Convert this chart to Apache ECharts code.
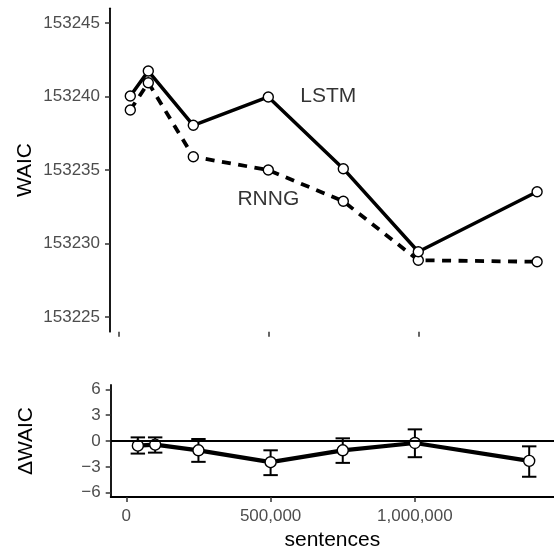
<!DOCTYPE html>
<html>
<head>
<meta charset="utf-8">
<script src="https://cdn.jsdelivr.net/npm/echarts@6/dist/echarts.min.js"></script>
<style>
html,body{margin:0;padding:0;background:#fff;}
#chart{width:554px;height:548px;}
</style>
</head>
<body>
<div id="chart"></div>
<script>
// ---- data ----
const sentences = [40000, 100000, 250000, 500000, 750000, 1000000, 1396000];
const waicLSTM = [153240.03, 153241.73, 153238.04, 153239.97, 153235.09, 153229.44, 153233.52];
const waicRNNG = [153239.08, 153240.94, 153235.90, 153235.00, 153232.87, 153228.86, 153228.76];
const deltaWAIC = [-0.54, -0.42, -1.08, -2.46, -1.08, -0.23, -2.31];
const deltaLow  = [-1.46, -1.35, -2.42, -3.96, -2.54, -1.88, -4.15];
const deltaHigh = [0.42, 0.42, 0.23, -1.08, 0.31, 1.35, -0.62];
const topYTicks = [153225, 153230, 153235, 153240, 153245];
const bottomYTicks = [-6, -3, 0, 3, 6];
const xTicks = [0, 500000, 1000000];
const modelNames = ['LSTM', 'RNNG'];
const modelLabelX = [700000, 500000];
const modelLabelY = [153240, 153233];

// ---- chart ----
const FONT = 'Liberation Sans, Arial, Helvetica, sans-serif';
const TICK_COLOR = '#4D4D4D';
const chart = echarts.init(document.getElementById('chart'), null, {renderer: 'canvas'});

const pair = (xs, ys) => xs.map((x, i) => [x, ys[i]]);
const errWidth = 50000;

const axisLineStyle = {color: '#000', width: 1.8};
const tickStyle = {color: '#333', width: 1.5};

const option = {
  animation: false,
  backgroundColor: '#fff',
  grid: [
    {left: 110, top: 8.3, right: 0, height: 323.4, containLabel: false, outerBoundsMode: 'none'},
    {left: 110.7, top: 385, right: 0, height: 112, containLabel: false, outerBoundsMode: 'none'}
  ],
  xAxis: [
    {
      gridIndex: 0, type: 'value', min: -27667, max: 1452333,
      splitLine: {show: false},
      axisLine: {show: false},
      axisTick: {show: true, length: 5, lineStyle: tickStyle, customValues: xTicks},
      axisLabel: {show: false, customValues: xTicks}
    },
    {
      gridIndex: 1, type: 'value', min: -54054, max: 1481960,
      splitLine: {show: false},
      axisLine: {show: true, onZero: false, lineStyle: axisLineStyle},
      axisTick: {show: true, length: 5, lineStyle: tickStyle, customValues: xTicks},
      axisLabel: {
        show: true, customValues: xTicks, margin: 11,
        color: TICK_COLOR, fontFamily: FONT, fontSize: 17,
        formatter: v => Number(v).toLocaleString('en-US')
      },
      name: 'sentences', nameLocation: 'middle', nameGap: 33, nameMoveOverlap: false,
      nameTextStyle: {color: '#000', fontFamily: FONT, fontSize: 21}
    }
  ],
  yAxis: [
    {
      gridIndex: 0, type: 'value', min: 153224, max: 153246,
      splitLine: {show: false},
      axisLine: {show: true, onZero: false, lineStyle: axisLineStyle},
      axisTick: {show: true, length: 5, lineStyle: tickStyle, customValues: topYTicks},
      axisLabel: {
        show: true, customValues: topYTicks, margin: 10,
        color: TICK_COLOR, fontFamily: FONT, fontSize: 17,
        formatter: v => String(v)
      },
      name: 'WAIC', nameLocation: 'middle', nameGap: 74, nameMoveOverlap: false,
      nameTextStyle: {color: '#000', fontFamily: FONT, fontSize: 21}
    },
    {
      gridIndex: 1, type: 'value', min: -6.5, max: 6.5,
      splitLine: {show: false},
      axisLine: {show: true, onZero: false, lineStyle: axisLineStyle},
      axisTick: {show: true, length: 5, lineStyle: tickStyle, customValues: bottomYTicks},
      axisLabel: {
        show: true, customValues: bottomYTicks, margin: 10,
        color: TICK_COLOR, fontFamily: FONT, fontSize: 17,
        formatter: v => (v < 0 ? '\u2212' + Math.abs(v) : String(v))
      },
      name: '\u0394WAIC', nameLocation: 'middle', nameGap: 74, nameMoveOverlap: false,
      nameTextStyle: {color: '#000', fontFamily: FONT, fontSize: 21}
    }
  ],
  series: [
    {
      name: 'RNNG', type: 'line', xAxisIndex: 0, yAxisIndex: 0,
      data: pair(sentences, waicRNNG),
      lineStyle: {color: '#000', width: 3.8, type: [9, 7.5], cap: 'butt'},
      symbol: 'circle', symbolSize: 10, showAllSymbol: true,
      itemStyle: {color: '#fff', borderColor: '#000', borderWidth: 1.4},
      z: 3
    },
    {
      name: 'LSTM', type: 'line', xAxisIndex: 0, yAxisIndex: 0,
      data: pair(sentences, waicLSTM),
      lineStyle: {color: '#000', width: 3.5},
      symbol: 'circle', symbolSize: 10, showAllSymbol: true,
      itemStyle: {color: '#fff', borderColor: '#000', borderWidth: 1.4},
      z: 4
    },
    {
      name: 'labels', type: 'scatter', xAxisIndex: 0, yAxisIndex: 0,
      data: modelNames.map((n, i) => ({value: [modelLabelX[i], modelLabelY[i]], name: n})),
      symbolSize: 0,
      label: {
        show: true, position: 'inside', formatter: p => p.name,
        color: '#000', fontFamily: FONT, fontSize: 21
      },
      z: 5
    },
    {
      name: 'errorbars', type: 'custom', xAxisIndex: 1, yAxisIndex: 1,
      data: sentences.map((x, i) => [x, deltaLow[i], deltaHigh[i]]),
      renderItem: (params, api) => {
        const x = api.value(0);
        const pLo = api.coord([x, api.value(1)]);
        const pHi = api.coord([x, api.value(2)]);
        const half = api.size([errWidth, 0])[0] / 2;
        const style = {stroke: '#000', lineWidth: 2, fill: null};
        return {
          type: 'group',
          children: [
            {type: 'line', shape: {x1: pLo[0], y1: pLo[1], x2: pHi[0], y2: pHi[1]}, style},
            {type: 'line', shape: {x1: pLo[0] - half, y1: pLo[1], x2: pLo[0] + half, y2: pLo[1]}, style},
            {type: 'line', shape: {x1: pHi[0] - half, y1: pHi[1], x2: pHi[0] + half, y2: pHi[1]}, style}
          ]
        };
      },
      z: 2
    },
    {
      name: 'delta', type: 'line', xAxisIndex: 1, yAxisIndex: 1,
      data: pair(sentences, deltaWAIC),
      lineStyle: {color: '#000', width: 4.2},
      symbol: 'circle', symbolSize: 11, showAllSymbol: true,
      itemStyle: {color: '#fff', borderColor: '#000', borderWidth: 1.4},
      markLine: {
        silent: true, symbol: 'none', label: {show: false},
        lineStyle: {color: '#000', width: 1.8, type: 'solid'},
        data: [{yAxis: 0}]
      },
      z: 4
    }
  ]
};
chart.setOption(option);
</script>
</body>
</html>
